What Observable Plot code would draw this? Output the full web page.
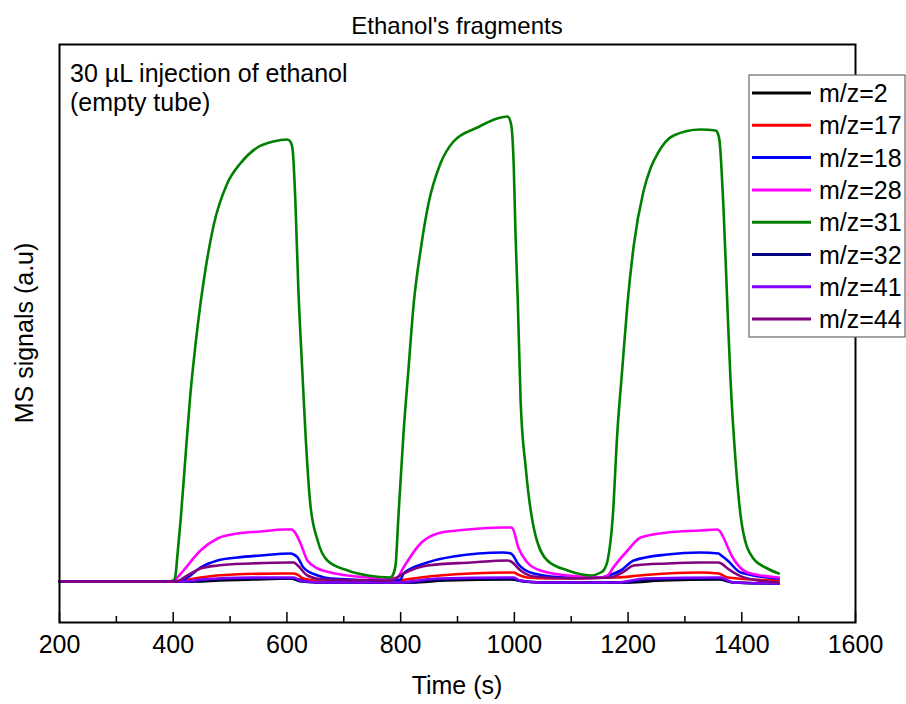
<!DOCTYPE html>
<html>
<head>
<meta charset="utf-8">
<script src="https://cdn.jsdelivr.net/npm/d3@7"></script>
<script src="https://cdn.jsdelivr.net/npm/@observablehq/plot@0.6"></script>
<style>
  html, body { margin: 0; padding: 0; background: #fff; }
  #chart { width: 906px; height: 704px; }
</style>
</head>
<body>
<div id="chart"></div>
<script>
// ---- data (time in s, signal in arbitrary units) ----
const seriesNames = ["m/z=2", "m/z=17", "m/z=18", "m/z=28", "m/z=31", "m/z=32", "m/z=41", "m/z=44"];
const seriesColors = ["#000000", "#ff0000", "#0000ff", "#ff00ff", "#008000", "#000080", "#8000ff", "#800080"];

const t2 = [200,440,480,540,606,630,660,820,880,993,1020,1060,1200,1260,1360,1385,1465];
const v2 = [0,0,1,2,3,1,-1,-1,1,2,0,-1,-1,1,2,-1,-2];

const t17 = [200,410,418,448,506,594,612,618,629,664,782,810,835,923,993,999,1006,1023,1060,1181,1220,1269,1327,1359,1364,1375,1465];
const v17 = [0,0,1,4,7,8,8,7,3,0,0,2,4,8,9,9,7,4,3,4,6,8,9,8,7,4,1];

const t18 = [200,410,425,448,478,513,554,606,612,619,629,654,677,782,800,805,847,893,981,994,999,1006,1034,1094,1152,1165,1187,1210,1269,1327,1359,1364,1375,1398,1465];
const v18 = [0,0,4,14,21,24,26,28,27,24,14,6,3,1,2,8,19,25,29,28,25,18,8,4,4,6,11,21,27,29,28,26,21,9,3];

const t28 = [200,400,404,418,448,478,513,554,594,608,613,624,636,654,677,707,742,782,794,805,835,865,900,940,981,994,997,1007,1023,1046,1094,1152,1164,1174,1199,1222,1269,1327,1357,1362,1366,1384,1410,1465];
const v28 = [0,0,2,11,31,43,48,50,52,52,50,38,21,13,9,6,4,3,4,14,38,48,51,53,54,54,53,34,19,11,6,4,6,14,31,44,49,51,52,50,46,24,9,4];

const t31 = [200,300,390,400,403,408,413,422,430,439,448,457,471,495,518,548,576,601,606,610,615,620,627,633,641,654,671,707,742,782,786,791,796,805,814,823,835,849,870,893,935,970,988,994,999,1002,1006,1011,1020,1034,1058,1094,1134,1152,1158,1164,1173,1181,1190,1199,1210,1227,1240,1252,1280,1327,1354,1358,1361,1368,1375,1380,1389,1401,1419,1445,1465];
const v31 = [0,0,0,1,3,30,61,128,186,236,278,313,356,398,418,434,440,442,440,432,378,294,211,144,78,41,21,11,6,4,6,16,64,148,214,278,331,378,418,440,454,463,465,458,414,348,281,181,114,54,21,11,6,9,12,21,64,148,214,278,336,390,414,428,446,452,451,448,440,371,271,204,121,54,24,13,8];

const t32 = [200,430,470,550,606,625,660,810,870,993,1015,1050,1190,1240,1360,1385,1465];
const v32 = [0,0,2,3,3,0,-1,-1,2,3,0,-1,-1,2,3,-1,-2];

const t41 = [200,420,448,536,606,612,624,660,800,830,865,993,999,1010,1050,1180,1230,1363,1368,1385,1465];
const v41 = [0,0,2,4,4,4,1,-1,-1,1,3,4,4,1,-1,-1,3,4,3,-1,-2];

const t44 = [200,405,425,448,478,536,606,612,619,636,664,782,805,847,923,988,994,1011,1034,1100,1169,1190,1210,1269,1327,1359,1364,1375,1410,1465];
const v44 = [0,0,6,13,16,18,19,19,16,6,2,1,8,16,19,21,20,11,5,3,4,9,16,18,19,19,18,13,3,-1];

const majorTicks = [200,400,600,800,1000,1200,1400,1600];
const minorTicks = [300,500,700,900,1100,1300,1500];

const titleText = "Ethanol's fragments";
const xLabel = "Time (s)";
const yLabel = "MS signals (a.u)";
const noteLines = ["30 \u00b5L injection of ethanol", "(empty tube)"];

// ---- build long table ----
const seriesT = [t2, t17, t18, t28, t31, t32, t41, t44];
const seriesV = [v2, v17, v18, v28, v31, v32, v41, v44];
const data = [];
seriesNames.forEach((name, i) => {
  seriesT[i].forEach((t, j) => data.push({name, t, v: seriesV[i][j]}));
});

const font = "'Liberation Sans', Arial, sans-serif";

const svg = Plot.plot({
  width: 906,
  height: 704,
  marginLeft: 59,
  marginRight: 51,
  marginTop: 44,
  marginBottom: 82,
  style: {fontFamily: font, fontSize: "25px", color: "#000", background: "#fff"},
  x: {domain: [200, 1600]},
  y: {domain: [-41, 537]},
  color: {domain: seriesNames, range: seriesColors},
  marks: [
    Plot.line(data, {x: "t", y: "v", z: "name", stroke: "name", strokeWidth: 2.6, curve: "monotone-x"}),
    Plot.axisX({ticks: majorTicks, tickSize: 0, tickPadding: 13, tickFormat: "d", label: null}),
    Plot.axisX({ticks: majorTicks, tickSize: -10, text: null, label: null, strokeWidth: 1.5}),
    Plot.axisX({ticks: minorTicks, tickSize: -6, text: null, label: null, strokeWidth: 1.5}),
    Plot.axisY({ticks: [], label: null}),
    Plot.frame({stroke: "#000", strokeWidth: 2})
  ]
});

document.getElementById("chart").appendChild(svg);

const s = d3.select(svg);
const g = s.append("g").attr("font-family", font).attr("font-size", 25).attr("fill", "#000");

g.append("text").attr("x", 457).attr("y", 34).attr("text-anchor", "middle").attr("font-size", 24).text(titleText);
g.append("text").attr("x", 457).attr("y", 694).attr("text-anchor", "middle").text(xLabel);
g.append("text").attr("transform", "translate(33,333) rotate(-90)").attr("text-anchor", "middle").text(yLabel);

noteLines.forEach((line, i) => {
  g.append("text").attr("x", 70).attr("y", 82 + i * 29).attr("text-anchor", "start").text(line);
});

// legend
const lg = s.append("g").attr("font-family", font).attr("font-size", 25);
lg.append("rect").attr("x", 749).attr("y", 75).attr("width", 156).attr("height", 262)
  .attr("fill", "#fff").attr("stroke", "#666").attr("stroke-width", 1.2);
seriesNames.forEach((name, i) => {
  const cy = 93 + i * 32.3;
  lg.append("line").attr("x1", 752).attr("x2", 811).attr("y1", cy).attr("y2", cy)
    .attr("stroke", seriesColors[i]).attr("stroke-width", 3);
  lg.append("text").attr("x", 819).attr("y", cy).attr("dy", "0.36em")
    .attr("text-anchor", "start").attr("fill", "#000").text(name);
});
</script>
</body>
</html>
